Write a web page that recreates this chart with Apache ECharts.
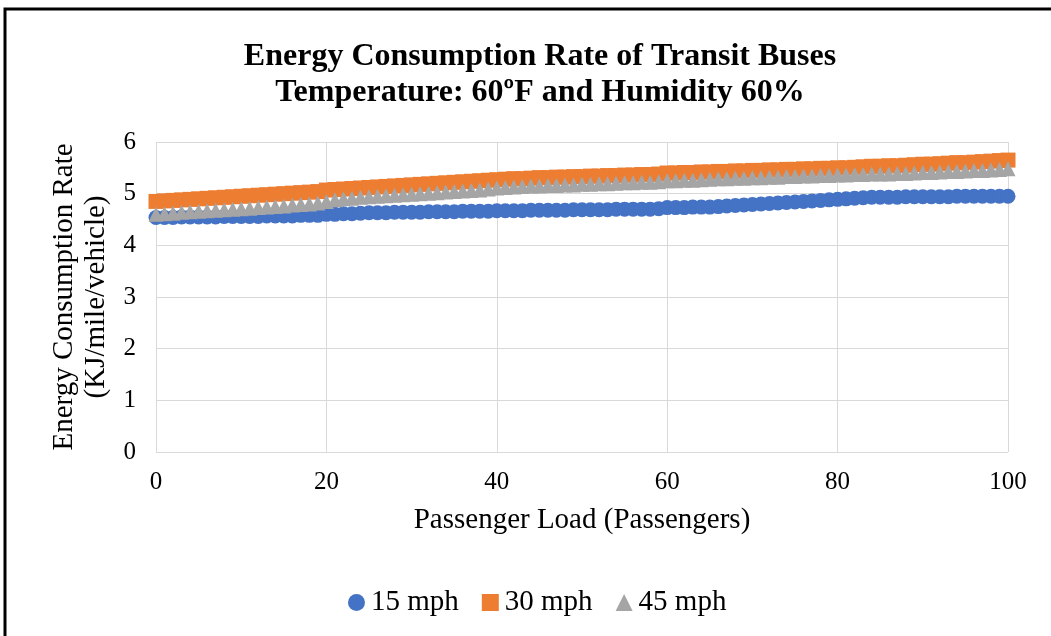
<!DOCTYPE html>
<html>
<head>
<meta charset="utf-8">
<script src="https://cdn.jsdelivr.net/npm/echarts@6/dist/echarts.min.js"></script>
<style>
html,body{margin:0;padding:0;background:#fff;}
#chart{width:1051px;height:636px;}
</style>
</head>
<body>
<div id="chart"></div>
<script>
const titleLines = ["Energy Consumption Rate of Transit Buses", "Temperature: 60ºF and Humidity 60%"];
const xAxisName = "Passenger Load (Passengers)";
const yAxisName = "Energy Consumption Rate\n(KJ/mile/vehicle)";
const seriesNames = ["15 mph", "30 mph", "45 mph"];
const passengers = [];
for (let i = 0; i <= 100; i++) passengers.push(i);

const mph15 = [
4.54,4.54,4.54,4.55,4.55,4.55,4.55,4.55,4.56,4.56,
4.56,4.56,4.56,4.57,4.57,4.57,4.57,4.58,4.58,4.58,
4.60,4.60,4.61,4.61,4.62,4.63,4.63,4.63,4.64,4.64,
4.64,4.64,4.65,4.65,4.65,4.65,4.66,4.66,4.66,4.66,
4.67,4.67,4.67,4.67,4.68,4.68,4.68,4.68,4.68,4.69,
4.69,4.69,4.69,4.69,4.70,4.70,4.70,4.70,4.70,4.71,
4.73,4.73,4.73,4.74,4.74,4.74,4.75,4.76,4.77,4.78,
4.79,4.80,4.81,4.82,4.83,4.84,4.85,4.86,4.87,4.88,
4.89,4.90,4.91,4.92,4.93,4.93,4.93,4.93,4.94,4.94,
4.94,4.94,4.94,4.94,4.95,4.95,4.95,4.95,4.95,4.95,4.95];

const mph30 = [
4.85,4.86,4.87,4.88,4.89,4.90,4.91,4.92,4.93,4.94,
4.95,4.96,4.97,4.98,4.99,5.00,5.01,5.02,5.03,5.04,
5.07,5.08,5.09,5.10,5.11,5.12,5.13,5.14,5.15,5.16,
5.17,5.18,5.19,5.20,5.21,5.22,5.23,5.24,5.25,5.26,
5.27,5.28,5.29,5.29,5.30,5.31,5.31,5.32,5.32,5.33,
5.33,5.34,5.34,5.35,5.35,5.36,5.36,5.37,5.37,5.38,
5.40,5.40,5.41,5.41,5.42,5.42,5.43,5.43,5.44,5.44,
5.45,5.45,5.46,5.46,5.47,5.47,5.48,5.48,5.49,5.49,
5.50,5.50,5.51,5.52,5.53,5.53,5.54,5.54,5.55,5.56,
5.57,5.57,5.58,5.59,5.60,5.60,5.61,5.62,5.63,5.64,5.65];

const mph45 = [
4.60,4.61,4.62,4.64,4.65,4.66,4.67,4.68,4.69,4.70,
4.71,4.72,4.73,4.74,4.75,4.76,4.78,4.79,4.80,4.82,
4.85,4.88,4.90,4.91,4.93,4.94,4.95,4.96,4.97,4.98,
4.99,5.00,5.01,5.02,5.03,5.04,5.05,5.06,5.07,5.09,
5.11,5.12,5.13,5.14,5.15,5.15,5.16,5.16,5.17,5.17,
5.18,5.18,5.19,5.19,5.20,5.21,5.21,5.22,5.22,5.23,
5.25,5.25,5.26,5.26,5.27,5.28,5.29,5.29,5.30,5.30,
5.31,5.31,5.32,5.32,5.33,5.33,5.34,5.34,5.35,5.35,
5.36,5.36,5.37,5.37,5.38,5.38,5.38,5.39,5.39,5.40,
5.41,5.41,5.42,5.43,5.43,5.44,5.45,5.45,5.46,5.47,5.48];

const colors = ["#4472C4", "#ED7D31", "#A5A5A5"];
const symbols = ["circle", "rect", "triangle"];
const seriesData = [mph15, mph30, mph45];
const FONT = "'Liberation Serif', 'Times New Roman', serif";

const chart = echarts.init(document.getElementById('chart'), null, {renderer: 'canvas'});
chart.setOption({
  animation: false,
  backgroundColor: '#fff',
  title: {
    text: titleLines.join('\n'),
    left: 535, top: 34, textAlign: 'center',
    textStyle: {fontFamily: FONT, fontWeight: 'bold', fontSize: 32, color: '#000', lineHeight: 36}
  },
  graphic: [{
    type: 'rect', shape: {x: 5, y: 9, width: 1060, height: 640},
    style: {fill: 'none', stroke: '#000', lineWidth: 3}, silent: true
  }],
  legend: {
    bottom: 14, left: 343,
    itemWidth: 17, itemHeight: 17, itemGap: 23,
    textStyle: {fontFamily: FONT, fontSize: 29, color: '#000', padding: [0,0,0,1]},
    data: seriesNames.map((n, i) => ({name: n, icon: symbols[i]}))
  },
  grid: {left: 156, right: 43, top: 142, bottom: 184, containLabel: false},
  xAxis: {
    type: 'value', min: 0, max: 100, interval: 20,
    name: xAxisName, nameLocation: 'middle', nameGap: 54,
    nameTextStyle: {fontFamily: FONT, fontSize: 29, color: '#000'},
    axisLine: {show: false}, axisTick: {show: false},
    axisLabel: {fontFamily: FONT, fontSize: 25, color: '#000', margin: 18},
    splitLine: {show: true, lineStyle: {color: '#D9D9D9', width: 1}}
  },
  yAxis: {
    type: 'value', min: 0, max: 6, interval: 1,
    name: yAxisName, nameLocation: 'middle', nameGap: 42, nameRotate: 90,
    nameTextStyle: {fontFamily: FONT, fontSize: 29, color: '#000', lineHeight: 32},
    axisLine: {show: false}, axisTick: {show: false},
    axisLabel: {fontFamily: FONT, fontSize: 25, color: '#000', margin: 20},
    splitLine: {show: true, lineStyle: {color: '#D9D9D9', width: 1}}
  },
  series: seriesNames.map((n, i) => ({
    name: n, type: 'scatter',
    symbol: symbols[i], symbolSize: 15,
    itemStyle: {color: colors[i], opacity: 1},
    data: passengers.map((p, k) => [p, seriesData[i][k]]),
    z: 2 + i
  }))
});
</script>
</body>
</html>
